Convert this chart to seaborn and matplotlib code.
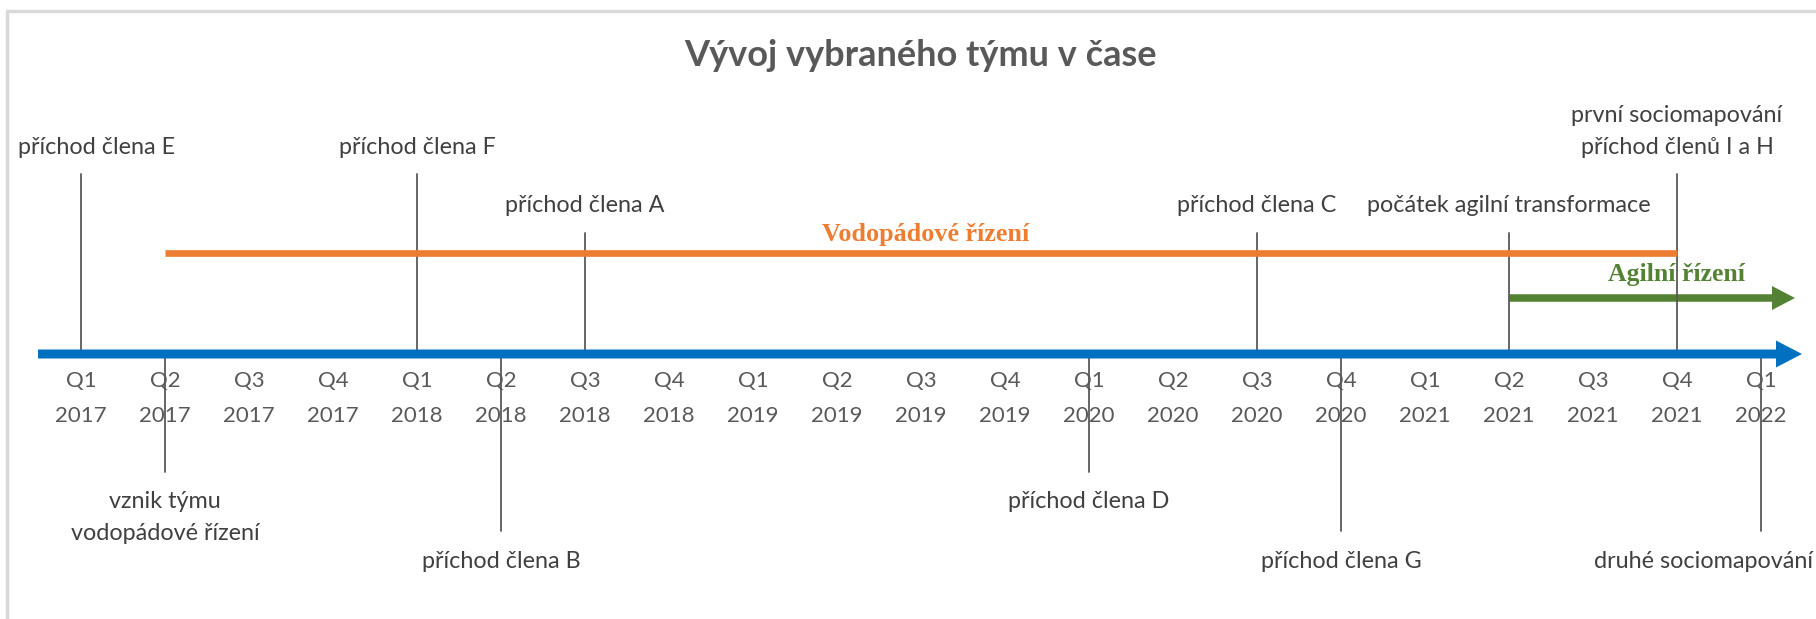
import matplotlib
matplotlib.use("Agg")
import matplotlib.pyplot as plt
from matplotlib.patches import FancyArrow
import seaborn as sns
import pandas as pd
import numpy as np

# ---------------- data ----------------
quarter_names = ["Q1", "Q2", "Q3", "Q4", "Q1", "Q2", "Q3", "Q4", "Q1", "Q2", "Q3",
                 "Q4", "Q1", "Q2", "Q3", "Q4", "Q1", "Q2", "Q3", "Q4", "Q1"]
quarter_years = ["2017", "2017", "2017", "2017", "2018", "2018", "2018", "2018",
                 "2019", "2019", "2019", "2019", "2020", "2020", "2020", "2020",
                 "2021", "2021", "2021", "2021", "2022"]

event_labels = ["příchod člena E", "vznik týmu\nvodopádové řízení", "příchod člena F",
                "příchod člena B", "příchod člena A", "příchod člena D",
                "příchod člena C", "příchod člena G", "počátek agilní transformace",
                "první sociomapování\npříchod členů I a H", "druhé sociomapování"]
event_quarters = [0, 1, 4, 5, 6, 12, 14, 15, 17, 19, 20]
event_levels = [2, -1, 2, -2, 1, -1, 1, -2, 1, 2, -2]

phase_labels = ["Vodopádové řízení", "Agilní řízení"]
phase_start = [1, 17]
phase_end = [19, None]  # None = continues (arrow)
phase_label_x = [10.06, 19]

title = "Vývoj vybraného týmu v čase"

# ---------------- style ----------------
sns.set_theme(style="white")
plt.rcParams["font.family"] = ["Lato", "DejaVu Sans"]

W, H = 1816, 619
X0, STEP = 81.0, 84.0          # pixel position of first quarter, pixels per quarter
BLUE, ORANGE, GREEN = "#0070C0", "#ED7D31", "#548235"
TXT, TICK, LINE = "#404040", "#595959", "#595959"
AXIS_Y = 354
LEVEL_END = {2: 174, 1: 233, -1: 472, -2: 531}
LABEL_FS = 16.8

def X(px):
    return (px - X0) / STEP

fig = plt.figure(figsize=(W / 100, H / 100), dpi=100)
ax = fig.add_axes([0, 0, 1, 1])

# chart frame (left and top edges visible)
ax.plot([X(7), X(7), X(W + 10)], [H + 5, 11, 11], color="#D9D9D9", lw=2.5,
        solid_joinstyle="miter", clip_on=False)

# title
ax.text(X(920), 55, title, ha="center", va="center", fontsize=26,
        fontweight="bold", color="#595959")

# event stems via seaborn
stems = pd.DataFrame({
    "event": np.repeat(np.arange(len(event_labels)), 2),
    "x": np.repeat(event_quarters, 2),
    "y": [v for lv in event_levels for v in (AXIS_Y, LEVEL_END[lv])],
})
sns.lineplot(data=stems, x="x", y="y", units="event", estimator=None,
             color=LINE, lw=1.3, ax=ax, legend=False, sort=False)

# waterfall phase line
wf = pd.DataFrame({"x": [phase_start[0], phase_end[0]], "y": [253, 253]})
sns.lineplot(data=wf, x="x", y="y", color=ORANGE, lw=4.8, ax=ax,
             solid_capstyle="butt")
ax.text(phase_label_x[0], 234, phase_labels[0],
        ha="center", va="center", fontsize=18.8, fontweight="bold",
        family="Liberation Serif", color=ORANGE)

ax.set_xlim(X(0), X(W))
ax.set_ylim(H, 0)
ax.axis("off")

# agile arrow
ax.add_patch(FancyArrow(phase_start[1], 298, X(1795) - phase_start[1], 0,
                        width=7.5, head_width=24, head_length=23 / STEP,
                        length_includes_head=True, color=GREEN, lw=0))
ax.text(phase_label_x[1], 275, phase_labels[1], ha="center", va="center",
        fontsize=18.5, fontweight="bold", family="Liberation Serif", color=GREEN)

# main time axis arrow
ax.add_patch(FancyArrow(X(38), AXIS_Y, X(1802) - X(38), 0,
                        width=9, head_width=27, head_length=26 / STEP,
                        length_includes_head=True, color=BLUE, lw=0, zorder=3))

# quarter tick labels
for i, (q, y) in enumerate(zip(quarter_names, quarter_years)):
    ax.text(i, 381, q, ha="center", va="center", fontsize=16, color=TICK)
    ax.text(i, 416, y, ha="center", va="center", fontsize=16, color=TICK)

# event labels (kept inside the chart area like the original)
fig.canvas.draw()
renderer = fig.canvas.get_renderer()
PITCH = 31
LEFT_LIMIT, RIGHT_LIMIT = 18, 1813
for lab, q, lv in zip(event_labels, event_quarters, event_levels):
    lines = lab.split("\n")
    if lv > 0:
        ys = [LEVEL_END[lv] - 27 - PITCH * (len(lines) - 1 - k) for k in range(len(lines))]
    else:
        ys = [LEVEL_END[lv] + 30 + PITCH * k for k in range(len(lines))]
    for line, yy in zip(lines, ys):
        t = ax.text(q, yy, line, ha="center", va="center", fontsize=LABEL_FS, color=TXT)
        bb = t.get_window_extent(renderer)
        if bb.x0 < LEFT_LIMIT:
            t.set_x(q + (LEFT_LIMIT - bb.x0) / STEP)
        elif bb.x1 > RIGHT_LIMIT:
            t.set_x(q - (bb.x1 - RIGHT_LIMIT) / STEP)

fig.savefig("out.png", dpi=100)
